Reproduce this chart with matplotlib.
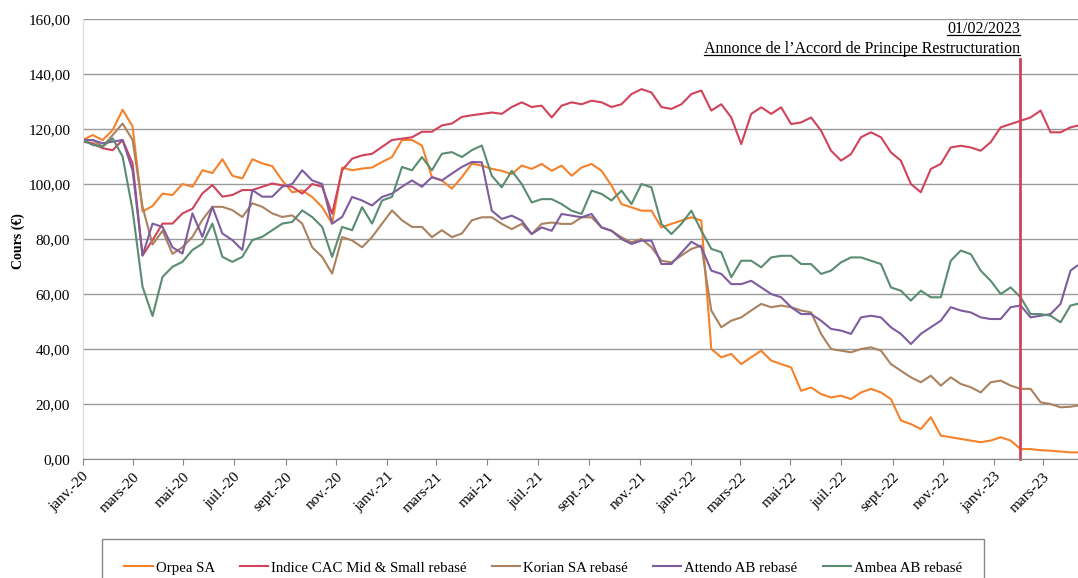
import matplotlib
matplotlib.use("Agg")
import matplotlib.pyplot as plt
import matplotlib.dates as mdates
from matplotlib.lines import Line2D
from matplotlib.ticker import FuncFormatter
import pandas as pd

plt.rcParams["font.family"] = ["Liberation Serif", "DejaVu Serif"]

# cours rebasés, relevés tous les 12 jours depuis le 01/01/2020 (+ dernier point)
dates = list(pd.date_range("2020-01-01", periods=100, freq="12D")) + [pd.Timestamp("2023-04-11")]

orpea = [116, 117.8, 116, 119.6, 127, 121, 90, 92, 96.5, 96, 100, 99, 105, 104, 109, 103, 102, 109, 107.5, 106.5,
         101.3, 97, 97.7, 95.3, 91.6, 85.6, 106, 105, 105.6, 106, 108, 109.8, 116, 116, 114, 102.5, 101.3, 98.3, 102.5, 107.4,
         106.7, 105.5, 104.8, 103.6, 106.7, 105.5, 107.3, 104.8, 106.7, 103, 106, 107.3, 104.8, 99.4, 92.7, 91.5, 90.3, 90.3, 84.2, 85.5,
         86.7, 87.9, 86.7, 40, 37, 38.2, 34.5, 37, 39.4, 35.8, 34.5, 33.3, 24.8, 26, 23.6, 22.4, 23, 21.8, 24.2, 25.5,
         24.2, 21.8, 14, 12.7, 10.9, 15.2, 8.5, 7.9, 7.3, 6.7, 6.1, 6.7, 7.9, 6.7, 3.6, 3.6, 3.2, 3, 2.7, 2.4,
         2.4]
cac = [115.4, 114.8, 113, 112.3, 116, 107.5, 74, 79.6, 85.6, 85.6, 89.3, 91, 96.6, 99.6, 95.4, 96, 97.8, 97.8, 99, 100.2,
       99.5, 99, 96.5, 100, 99, 89.2, 105, 109.2, 110.4, 111, 113.5, 116, 116.5, 117, 119, 119, 121.3, 122, 124.4, 125,
       125.5, 126, 125.5, 128, 129.7, 128, 128.5, 124.2, 128.5, 129.7, 129, 130.3, 129.7, 128, 129, 132.7, 134.5, 133.3, 128, 127.3,
       129, 132.7, 134, 126.7, 129, 124.2, 114.5, 125.5, 127.9, 125.5, 127.9, 121.8, 122.4, 124.2, 119.4, 112.1, 108.5, 110.9, 117, 118.8,
       117, 111.5, 108.5, 100, 97, 105.5, 107.3, 113.3, 113.9, 113.3, 112.1, 115.2, 120.6, 121.8, 123, 124.2, 126.7, 118.8, 118.8, 120.6,
       121.2]
korian = [115.6, 116, 113.6, 117.8, 122, 116, 91.7, 78, 83, 74.6, 77, 80.8, 87, 91.7, 91.7, 90.5, 88, 93, 91.7, 89.3,
          88, 88.6, 85.6, 77, 73.5, 67.4, 80.7, 79.5, 77, 80.7, 85.6, 90.4, 86.8, 84.4, 84.4, 80.7, 83.2, 80.7, 82, 86.8,
          87.9, 87.9, 85.5, 83.6, 85.5, 81.8, 85.5, 86, 85.5, 85.5, 87.9, 87.9, 84.2, 83, 80.6, 78.8, 80, 77, 72.1, 71.5,
          74, 76.4, 77.6, 54, 47.9, 50.3, 51.5, 54, 56.4, 55.2, 55.8, 55.2, 54, 53.3, 45.5, 40, 39.4, 38.8, 40, 40.6,
          39.4, 34.5, 32.1, 29.7, 27.9, 30.3, 26.7, 29.7, 27.3, 26.1, 24.2, 27.9, 28.5, 26.7, 25.5, 25.5, 20.6, 20, 18.8, 19,
          19.4]
attendo = [116, 116, 114.8, 115.4, 116, 105, 74, 85.6, 84.4, 77, 74.7, 89.3, 80.8, 91.7, 82, 79.6, 76, 97.8, 95.4, 95.4,
           99, 100, 105, 101.3, 100, 85.6, 88, 95.3, 94, 92.2, 95.3, 96.5, 99, 101.3, 99, 102.5, 101.3, 103.8, 106.2, 108,
           107.9, 90.3, 87.3, 88.5, 86.7, 81.8, 84.2, 83, 89.1, 88.5, 87.9, 89.1, 84.2, 83, 80, 78.2, 79.4, 79.4, 70.9, 70.9,
           75, 79, 77, 68.5, 67.3, 63.6, 63.6, 64.8, 62.4, 60, 58.8, 55.2, 52.7, 52.7, 50.3, 47.3, 46.7, 45.5, 51.5, 52.1,
           51.5, 47.9, 45.5, 41.8, 45.5, 47.9, 50.3, 55.2, 54, 53.3, 51.5, 50.9, 50.9, 55.2, 55.8, 51.5, 52.1, 52.7, 56.4, 68.5,
           70.3]
ambea = [116, 114.2, 113.6, 116.6, 110, 90.5, 62.6, 52, 66.2, 69.9, 71.7, 76, 78.3, 85.6, 73.5, 71.7, 73.5, 79.6, 80.8, 83.2,
         85.6, 86.2, 90.4, 88, 84.4, 73.5, 84.4, 83.2, 91.6, 85.6, 94, 95.3, 106.2, 105, 109.8, 105, 111, 111.6, 109.8, 112.3,
         114, 103, 98.8, 104.8, 100, 93.3, 94.5, 94.5, 92.7, 90.3, 89.1, 97.6, 96.4, 94, 97.6, 92.7, 100, 98.8, 85.5, 81.8,
         85.5, 90.3, 83, 76.4, 75.2, 66.1, 72.1, 72.1, 69.7, 73.3, 73.9, 73.9, 70.9, 70.9, 67.3, 68.5, 71.5, 73.3, 73.3, 72.1,
         70.9, 62.4, 61.2, 57.6, 61.2, 58.8, 58.8, 72.1, 75.8, 74.5, 68.5, 64.8, 60, 62.4, 58.8, 52.7, 52.7, 52.1, 49.7, 55.8,
         56.4]

series_names = ["Orpea SA", "Indice CAC Mid & Small rebasé", "Korian SA rebasé",
                "Attendo AB rebasé", "Ambea AB rebasé"]
colors = ["#F5822A", "#D0435A", "#AA825F", "#7E5CA0", "#5A8C72"]

tick_dates = pd.date_range("2020-01-01", "2023-03-01", freq="2MS")
tick_labels = ["janv.-20", "mars-20", "mai-20", "juil.-20", "sept.-20", "nov.-20",
               "janv.-21", "mars-21", "mai-21", "juil.-21", "sept.-21", "nov.-21",
               "janv.-22", "mars-22", "mai-22", "juil.-22", "sept.-22", "nov.-22",
               "janv.-23", "mars-23"]

event_date = pd.Timestamp("2023-02-01")
event_top = 145.3
event_texts = ["01/02/2023", "Annonce de l\u2019Accord de Principe Restructuration"]

fig = plt.figure(figsize=(10.78, 5.78), dpi=100)
ax = fig.add_axes([0.0767, 0.2059, 0.9233, 0.7612])

for vals, name, col in zip([orpea, cac, korian, attendo, ambea], series_names, colors):
    ax.plot(dates, vals, color=col, lw=1.5, label=name)

ax.plot([event_date, event_date], [0, event_top], color="#D0435A", lw=2, clip_on=False)

ax.set_xlim(pd.Timestamp("2020-01-01"), pd.Timestamp("2023-04-12"))
ax.set_ylim(0, 160)
ax.set_yticks(range(0, 161, 20))
ax.yaxis.set_major_formatter(FuncFormatter(lambda v, p: f"{v:.2f}".replace(".", ",")))
ax.grid(axis="y", color="#9a9a9a", lw=1)
ax.set_axisbelow(True)

ax.set_xticks(tick_dates)
ax.set_xticklabels(tick_labels, rotation=45, ha="right", va="top", rotation_mode="anchor")
ax.tick_params(axis="x", length=4, color="#868686", labelsize=11, pad=4)
ax.tick_params(axis="y", length=0, labelsize=11, pad=9)

for s in ["top", "right"]:
    ax.spines[s].set_visible(False)
ax.spines["left"].set_color("#d9d9d9")
ax.spines["bottom"].set_color("#868686")

fig.text(0.0167, 0.583, "Cours (\u20ac)", rotation=90, ha="center", va="center",
         fontsize=10, fontweight="bold")

texts = []
for txt, yv in zip(event_texts, [154.9, 147.5]):
    texts.append(ax.text(event_date, yv, txt, ha="right", va="baseline", fontsize=11.5))

leg = fig.legend(loc="upper left", bbox_to_anchor=(102 / 1078, 1 - 539 / 578), ncol=5,
                 fontsize=10.7, frameon=True, fancybox=False, framealpha=1,
                 edgecolor="#868686", borderaxespad=0, borderpad=1.5,
                 handlelength=1.9, handletextpad=0.2, columnspacing=1.7)
leg.get_frame().set_linewidth(1)

# soulignement des deux lignes d'annotation
fig.canvas.draw()
inv = fig.transFigure.inverted()
for t in texts:
    bb = t.get_window_extent()
    yb = ax.transData.transform((mdates.date2num(event_date), t.get_position()[1]))[1] - 2
    x0, y0 = inv.transform((bb.x0, yb))
    x1, _ = inv.transform((bb.x1, yb))
    fig.add_artist(Line2D([x0, x1], [y0, y0], transform=fig.transFigure, color="black", lw=0.9))

fig.savefig("out.png", dpi=100)
